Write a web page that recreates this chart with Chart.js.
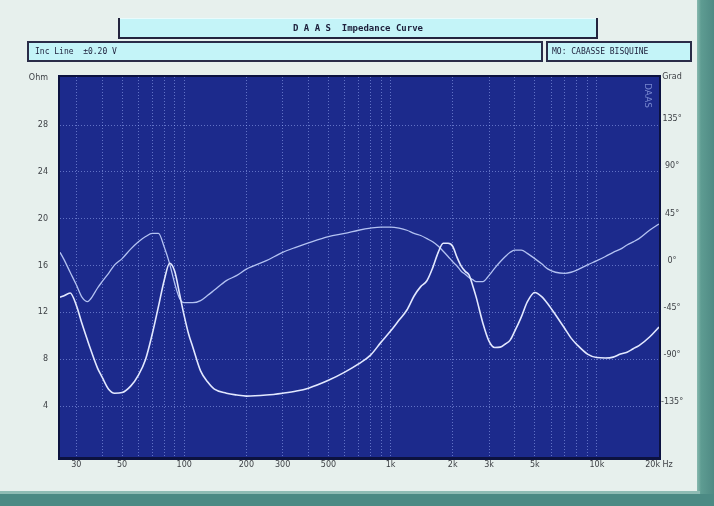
<!DOCTYPE html>
<html>
<head>
<meta charset="utf-8">
<script src="https://cdn.jsdelivr.net/npm/chart.js@4.4.1/dist/chart.umd.min.js"></script>
<style>
  html, body { margin: 0; padding: 0; background: #e7f0ed; }
  #wrap { width: 714px; height: 506px; }
</style>
</head>
<body>
<div id="wrap"><canvas id="c" width="714" height="506"></canvas></div>
<script>
// Measurement sweep: frequency (Hz), impedance magnitude (Ohm), phase (degrees)
const freqHz = [25, 26, 28, 30, 32, 34, 35, 38, 40, 43, 46, 50, 55, 60, 65, 70, 75, 80, 85, 90, 95,
  100, 105, 110, 120, 130, 140, 160, 180, 200, 250, 300, 350, 400, 500, 600, 700, 800, 900,
  1000, 1100, 1200, 1300, 1400, 1500, 1600, 1700, 1800, 1900, 2000, 2100, 2200, 2300, 2400, 2500,
  2600, 2800, 3000, 3200, 3400, 3600, 3800, 4000, 4300, 4600, 5000, 5400, 5800, 6300, 7000, 7500,
  8000, 9000, 10000, 11000, 12000, 13000, 14000, 15000, 16000, 18000, 20000];

const impedanceOhm = [13.3, 13.4, 13.65, 12.6, 11.0, 9.6, 8.95, 7.24, 6.47, 5.44, 5.1, 5.15, 5.7, 6.64, 8.0, 10.15, 12.5, 14.75, 16.2, 15.5, 13.55,
  11.7, 10.15, 9.05, 7.0, 6.05, 5.45, 5.1, 4.94, 4.85, 4.94, 5.1, 5.28, 5.53, 6.2, 6.9, 7.6, 8.35, 9.46,
  10.4, 11.34, 12.2, 13.4, 14.2, 14.7, 15.8, 17.1, 17.9, 17.9, 17.65, 16.7, 15.95, 15.5, 15.2, 14.3,
  13.3, 11.1, 9.55, 9.0, 9.03, 9.3, 9.63, 10.4, 11.6, 12.9, 13.7, 13.35, 12.7, 11.8, 10.6, 9.8,
  9.25, 8.44, 8.14, 8.1, 8.18, 8.44, 8.6, 8.9, 9.16, 9.9, 10.75];

const phaseDeg = [8, 2, -11, -23, -35, -39, -37, -26, -20, -12, -4, 2, 11, 18, 23, 26, 26, 13, -3, -22, -36,
  -40, -40, -40, -38, -33, -28, -19, -14, -8, 0, 8, 13, 17, 23, 26, 29, 31, 32,
  32, 31, 29, 26, 24, 21, 18, 14, 9, 4, -1, -5, -10, -13, -16, -18,
  -20, -20, -14, -7, -1, 4, 8, 10, 10, 7, 2, -3, -8, -11, -12, -11,
  -9, -4, 0, 4, 8, 11, 15, 18, 21, 29, 35];

// Axis ticks and labels
const ohmTicks = [4, 8, 12, 16, 20, 24, 28, 32];
const gradTicks = [-135, -90, -45, 0, 45, 90, 135, 175];
const freqGrid = [30, 40, 50, 60, 70, 80, 90, 100, 200, 300, 400, 500, 600, 700, 800, 900,
  1000, 2000, 3000, 4000, 5000, 6000, 7000, 8000, 9000, 10000, 20000];
const freqLabels = {30: '30', 50: '50', 100: '100', 200: '200', 300: '300', 500: '500',
  1000: '1k', 2000: '2k', 3000: '3k', 5000: '5k', 10000: '10k', 20000: '20k Hz'};

const titleText = 'D A A S  Impedance Curve';
const lineText = 'Inc Line  \u00b10.20 V';
const modelText = 'MO: CABASSE BISQUINE';

const tickFont = { family: 'DejaVu Sans', size: 8 };
const tickColor = '#3c3f44';
const gridColor = 'rgba(165,185,255,0.5)';

function panel(ctx, x, y, w, h, dark) {
  ctx.fillStyle = '#c4f4f8';
  ctx.fillRect(x, y, w, h);
  ctx.lineWidth = 2;
  ctx.strokeStyle = dark;
  ctx.strokeRect(x + 1, y + 1, w - 2, h - 2);
}

const frame = {
  id: 'frame',
  beforeDraw(chart) {
    const ctx = chart.ctx, a = chart.chartArea;
    ctx.save();
    ctx.fillStyle = '#e7f0ed';
    ctx.fillRect(0, 0, 714, 506);
    // bevelled edges of the panel
    const gr = ctx.createLinearGradient(694, 0, 714, 0);
    gr.addColorStop(0, '#a9cfc6');
    gr.addColorStop(0.35, '#5e9c92');
    gr.addColorStop(1, '#4f8a84');
    ctx.fillStyle = gr;
    ctx.fillRect(697, 0, 17, 506);
    ctx.fillStyle = '#4c8a84';
    ctx.fillRect(0, 494, 714, 12);
    ctx.fillStyle = '#8fbcb4';
    ctx.fillRect(0, 491, 700, 3);

    // title panel: light top edge, dark sides and base
    ctx.fillStyle = '#c4f4f8';
    ctx.fillRect(118, 18, 480, 21);
    ctx.strokeStyle = '#e9fbfc';
    ctx.lineWidth = 1;
    ctx.beginPath(); ctx.moveTo(118, 18.5); ctx.lineTo(598, 18.5); ctx.stroke();
    ctx.strokeStyle = '#23243e';
    ctx.lineWidth = 2;
    ctx.beginPath();
    ctx.moveTo(119, 18); ctx.lineTo(119, 38); ctx.lineTo(597, 38); ctx.lineTo(597, 18);
    ctx.stroke();

    panel(ctx, 27, 41, 516, 21, '#2a2c48');
    panel(ctx, 546, 41, 146, 21, '#2a2c48');

    ctx.fillStyle = '#1c1e3a';
    ctx.textBaseline = 'middle';
    ctx.font = 'bold 9px "DejaVu Sans Mono"';
    ctx.textAlign = 'center';
    ctx.fillText(titleText, 358, 29);
    ctx.font = '8px "DejaVu Sans Mono"';
    ctx.textAlign = 'left';
    ctx.fillText(lineText, 35, 52);
    ctx.fillText(modelText, 552, 52);

    // plot background
    ctx.fillStyle = '#1c2a8c';
    ctx.fillRect(a.left, a.top, a.right - a.left, a.bottom - a.top);
    ctx.restore();
  },
  afterDatasetsDraw(chart) {
    const ctx = chart.ctx, a = chart.chartArea;
    ctx.save();
    ctx.translate(a.right - 12, a.top + 6);
    ctx.rotate(Math.PI / 2);
    ctx.fillStyle = 'rgba(150,165,230,0.75)';
    ctx.font = '9px "DejaVu Sans"';
    ctx.textAlign = 'left';
    ctx.textBaseline = 'middle';
    ctx.fillText('DAAS', 0, 0);
    ctx.restore();
  },
  afterDraw(chart) {
    const ctx = chart.ctx, a = chart.chartArea;
    ctx.save();
    ctx.strokeStyle = '#0c1240';
    ctx.lineWidth = 2;
    ctx.strokeRect(a.left - 1, a.top - 1, a.right - a.left + 2, a.bottom - a.top + 2);
    ctx.fillStyle = '#0c1240';
    ctx.fillRect(a.left - 2, a.bottom, a.right - a.left + 4, 3);
    ctx.restore();
  }
};

new Chart(document.getElementById('c'), {
  type: 'line',
  data: {
    datasets: [
      {
        label: 'Impedance',
        data: freqHz.map((f, i) => ({ x: f, y: impedanceOhm[i] })),
        yAxisID: 'y',
        borderColor: '#e2e8ff',
        borderWidth: 1.6,
        pointRadius: 0,
        cubicInterpolationMode: 'monotone'
      },
      {
        label: 'Phase',
        data: freqHz.map((f, i) => ({ x: f, y: phaseDeg[i] })),
        yAxisID: 'y1',
        borderColor: '#b3c2f2',
        borderWidth: 1.3,
        pointRadius: 0,
        cubicInterpolationMode: 'monotone'
      }
    ]
  },
  options: {
    responsive: false,
    animation: false,
    devicePixelRatio: 1,
    layout: { padding: { top: 77, left: 0, right: 0, bottom: 0 } },
    plugins: { legend: { display: false }, tooltip: { enabled: false }, title: { display: false } },
    scales: {
      x: {
        type: 'logarithmic',
        min: 25,
        max: 20000,
        afterBuildTicks: s => { s.ticks = freqGrid.map(v => ({ value: v })); },
        afterFit: s => { s.height = 49; },
        grid: { color: gridColor, drawTicks: false, lineWidth: 1 },
        border: { display: false, dash: [1, 2] },
        ticks: {
          autoSkip: false, maxRotation: 0, minRotation: 0, padding: 3,
          font: tickFont, color: tickColor,
          callback: v => freqLabels[v] || ''
        }
      },
      y: {
        type: 'linear',
        position: 'left',
        min: -0.35,
        max: 32.1,
        afterBuildTicks: s => { s.ticks = ohmTicks.map(v => ({ value: v })); },
        afterFit: s => { s.width = 60; },
        grid: {
          color: c => (c.tick && c.tick.value === 32 ? 'rgba(0,0,0,0)' : gridColor),
          drawTicks: false, lineWidth: 1
        },
        border: { display: false, dash: [1, 2] },
        ticks: {
          padding: 12, font: tickFont, color: tickColor,
          callback: v => (v === 32 ? 'Ohm' : String(v))
        }
      },
      y1: {
        type: 'linear',
        position: 'right',
        min: -187,
        max: 175,
        afterBuildTicks: s => { s.ticks = gradTicks.map(v => ({ value: v })); },
        afterFit: s => { s.width = 55; },
        grid: { display: false, drawTicks: false },
        border: { display: false },
        ticks: {
          padding: 2, crossAlign: 'center', font: tickFont, color: tickColor,
          callback: v => (v === 175 ? 'Grad' : v + '\u00b0')
        }
      }
    }
  },
  plugins: [frame]
});
</script>
</body>
</html>
